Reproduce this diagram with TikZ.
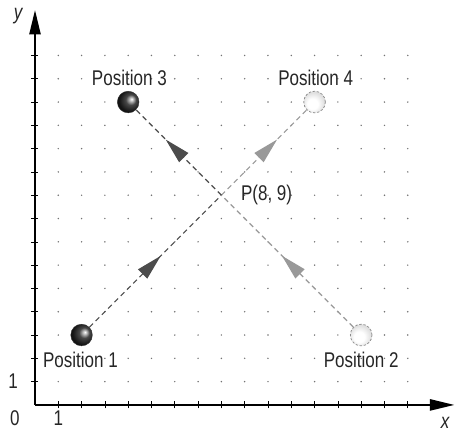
\documentclass[tikz,border=0pt]{standalone}
\usepackage{fontspec}
\setmainfont{Liberation Sans}[FakeStretch=0.8]
\usetikzlibrary{arrows.meta,decorations.markings}
\pgfdeclareradialshading{darkball}{\pgfqpoint{8bp}{7bp}}{color(0bp)=(white); color(5bp)=(gray!60); color(12bp)=(black!72); color(25bp)=(black!92); color(50bp)=(black)}
\pgfdeclareradialshading{lightball}{\pgfqpoint{-6bp}{-6bp}}{color(0bp)=(white); color(12bp)=(white); color(25bp)=(black!12); color(50bp)=(black!20)}
\begin{document}
\begin{tikzpicture}[
  lbl/.style={font=\fontsize{26}{28}\selectfont, text=black!85, inner sep=1pt},
  dark/.style={circle, minimum size=0.93cm, inner sep=0pt, shade, shading=darkball, draw=black!80, line width=0.5pt},
  light/.style={circle, minimum size=0.93cm, inner sep=0pt, shade, shading=lightball, draw=black!45, densely dashed, line width=0.9pt},
  pathdark/.style={draw=black!70, line width=1.5pt, dash pattern=on 0.22cm off 0.16cm},
  pathlight/.style={draw=black!40, line width=1.5pt, dash pattern=on 0.22cm off 0.16cm},
  marr/.style 2 args={postaction={decorate}, decoration={markings, mark=at position #1 with {\arrow{Triangle[length=1.1cm,width=0.55cm,fill=#2]}}}},
  axis/.style={line width=2.4pt, black, -{Triangle[length=1.05cm,width=0.48cm]}},
  tick/.style={line width=0.8pt, black}
]
\useasboundingbox (-1.502,-1.288) rectangle (18.07,17.38);
% grid dots
\foreach \i in {1,...,16}{
  \foreach \j in {1,...,15}{
    \fill[black!55] (\i,\j) circle (0.035);
  }
}
% axes
\coordinate (O) at (0,0);
\coordinate (xend) at (18,0);
\coordinate (yend) at (0,16.95);
\foreach \i in {1,...,16} \draw[tick] (\i,-0.15) -- (\i,0.15);
\foreach \j in {1,...,15} \draw[tick] (-0.18,\j) -- (0.15,\j);
\draw[axis] (O) -- (xend);
\draw[axis] (O) -- (yend);
% labels on axes
\node[lbl, font=\fontsize{26}{28}\selectfont\itshape] (ylab) at (-0.72,16.67) {y};
\node[lbl, font=\fontsize{26}{28}\selectfont\itshape] (xlab) at (17.6,-0.78) {x};
\node[lbl] (zero) at (-0.86,-0.56) {0};
\node[lbl] (xone) at (1.0,-0.56) {1};
\node[lbl] (yone) at (-0.94,1.0) {1};
% balls
\node[dark] (p1) at (2,3) {};
\node[light] (p2) at (14,3) {};
\node[dark] (p3) at (4,13) {};
\node[light] (p4) at (12,13) {};
\coordinate (P) at (8,9);
% paths
\draw[pathdark, marr={4.33cm}{black!70}] (p1) -- (P);
\draw[pathlight, marr={3.38cm}{black!40}] (P) -- (p4);
\draw[pathdark, marr={3.38cm}{black!70}] (P) -- (p3);
\draw[pathlight, marr={4.33cm}{black!40}] (p2) -- (P);
% position labels
\node[lbl] (l1) at (1.95,1.93) {Position 1};
\node[lbl] (l2) at (14,1.93) {Position 2};
\node[lbl] (l3) at (4.05,14.03) {Position 3};
\node[lbl] (l4) at (12.05,14.03) {Position 4};
\node[lbl, anchor=west] (lP) at (8.8,9.0) {P(8, 9)};
\end{tikzpicture}
\end{document}
